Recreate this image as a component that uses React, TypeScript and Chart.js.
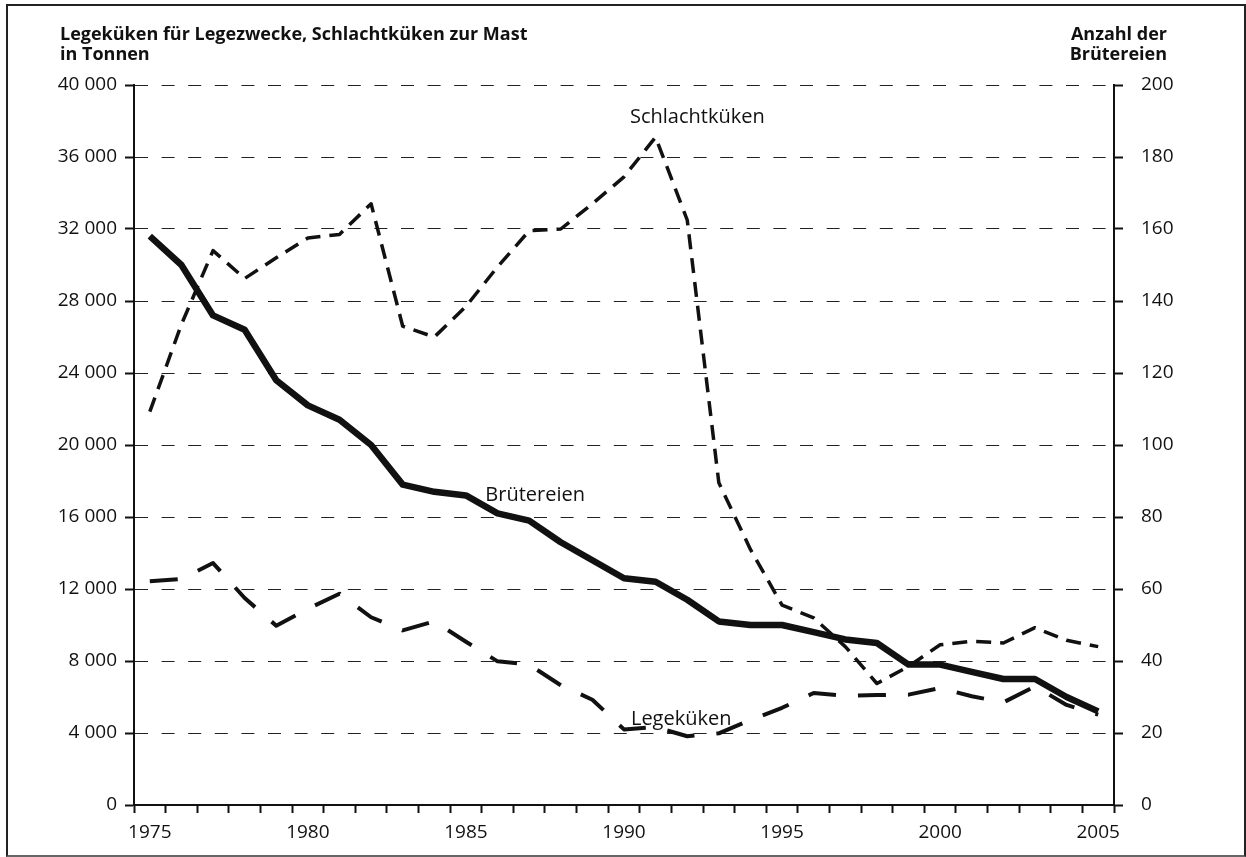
import React, { useEffect, useRef } from 'react';
import { Chart, registerables } from 'chart.js';

Chart.register(...registerables);

// ---------- data ----------
const years = [
  '1975', '1976', '1977', '1978', '1979', '1980', '1981', '1982', '1983', '1984',
  '1985', '1986', '1987', '1988', '1989', '1990', '1991', '1992', '1993', '1994',
  '1995', '1996', '1997', '1998', '1999', '2000', '2001', '2002', '2003', '2004', '2005',
];
const labeledYears = ['1975', '1980', '1985', '1990', '1995', '2000', '2005'];

// Schlachtküken zur Mast, in Tonnen (left axis)
const schlachtkueken = [
  21850, 26700, 30800, 29250, 30400, 31500, 31700, 33400, 26600, 26000,
  27700, 29900, 31900, 32000, 33400, 34900, 37100, 32500, 17900, 14200,
  11100, 10400, 8800, 6750, 7700, 8900, 9100, 9000, 9850, 9150, 8800,
];

// Legeküken für Legezwecke, in Tonnen (left axis)
const legekueken = [
  12430, 12560, 13440, 11500, 9960, 10900, 11740, 10430, 9700, 10200,
  9070, 7980, 7800, 6650, 5850, 4200, 4330, 3820, 3980, 4720,
  5400, 6220, 6060, 6110, 6130, 6500, 6040, 5700, 6590, 5560, 5020,
];

// Anzahl der Brütereien (right axis)
const bruetereien = [
  158, 150, 136, 132, 118, 111, 107, 100, 89, 87,
  86, 81, 79, 73, 68, 63, 62, 57, 51, 50,
  50, 48, 46, 45, 39, 39, 37, 35, 35, 30, 26,
];

const leftMin = 0;
const leftMax = 40000;
const leftStep = 4000;
const rightMin = 0;
const rightMax = 200;
const rightStep = 20;

const titleLeft = ['Legeküken für Legezwecke, Schlachtküken zur Mast', 'in Tonnen'];
const titleRight = ['Anzahl der', 'Brütereien'];

// in-chart series labels: category position (index) and left-axis value
const seriesLabels = [
  { text: 'Schlachtküken', at: 17.32, value: 37900 },
  { text: 'Brütereien', at: 12.19, value: 16890 },
  { text: 'Legeküken', at: 16.81, value: 4445 },
];

// ---------- styling ----------
const FONT = '"Open Sans", "Noto Sans", "DejaVu Sans", sans-serif';
const INK = '#111111';
const W = 1246;
const H = 857;

const fmt = (v: number) => String(v).replace(/\B(?=(\d{3})+(?!\d))/g, ' ');

const labelPlugin = {
  id: 'seriesLabels',
  afterDatasetsDraw(chart: any) {
    const { ctx, scales } = chart;
    ctx.save();
    ctx.font = `20px ${FONT}`;
    ctx.fillStyle = INK;
    ctx.textAlign = 'center';
    ctx.textBaseline = 'alphabetic';
    for (const l of seriesLabels) {
      ctx.fillText(l.text, scales.x.getPixelForValue(l.at), scales.y.getPixelForValue(l.value));
    }
    ctx.restore();
  },
};

export default function App() {
  const canvasRef = useRef<HTMLCanvasElement | null>(null);

  useEffect(() => {
    if (!canvasRef.current) return;
    const chart = new Chart(canvasRef.current, {
      type: 'line',
      data: {
        labels: years,
        datasets: [
          {
            label: 'Brütereien',
            data: bruetereien,
            yAxisID: 'y1',
            borderColor: INK,
            borderWidth: 6.5,
            pointRadius: 0,
            borderJoinStyle: 'round',
            borderCapStyle: 'butt',
            tension: 0,
            fill: false,
          },
          {
            label: 'Schlachtküken',
            data: schlachtkueken,
            yAxisID: 'y',
            borderColor: INK,
            borderWidth: 3.5,
            borderDash: [15, 9],
            pointRadius: 0,
            borderJoinStyle: 'round',
            tension: 0,
            fill: false,
          },
          {
            label: 'Legeküken',
            data: legekueken,
            yAxisID: 'y',
            borderColor: INK,
            borderWidth: 4,
            borderDash: [28, 22],
            pointRadius: 0,
            borderJoinStyle: 'round',
            tension: 0,
            fill: false,
          },
        ],
      },
      options: {
        responsive: false,
        animation: false,
        devicePixelRatio: 1,
        layout: { padding: { top: 85, left: 0, right: 0, bottom: 0 } },
        plugins: {
          legend: { display: false },
          tooltip: { enabled: false },
          title: { display: false },
        },
        events: [],
        scales: {
          x: {
            type: 'category',
            offset: true,
            grid: {
              offset: true,
              drawOnChartArea: false,
              drawTicks: true,
              tickLength: 8,
              tickWidth: 2,
              tickColor: INK,
            },
            border: { display: true, color: INK, width: 2 },
            ticks: {
              autoSkip: false,
              maxRotation: 0,
              minRotation: 0,
              padding: 8,
              color: INK,
              font: { family: FONT, size: 19 },
              callback: (_v: any, index: number) =>
                labeledYears.includes(years[index]) ? years[index] : '',
            },
            afterFit: (s: any) => {
              s.height = 52;
            },
          },
          y: {
            type: 'linear',
            position: 'left',
            min: leftMin,
            max: leftMax,
            ticks: {
              stepSize: leftStep,
              padding: 8,
              color: INK,
              font: { family: FONT, size: 19 },
              callback: (v: any) => fmt(Number(v)),
            },
            grid: {
              drawOnChartArea: true,
              color: '#222222',
              lineWidth: 1,
              drawTicks: true,
              tickLength: 9,
              tickWidth: 2,
              tickColor: INK,
            },
            border: { display: true, color: INK, width: 2, dash: [13, 13.6] },
            afterFit: (s: any) => {
              s.width = 134;
            },
          },
          y1: {
            type: 'linear',
            position: 'right',
            min: rightMin,
            max: rightMax,
            ticks: {
              stepSize: rightStep,
              padding: 18,
              color: INK,
              font: { family: FONT, size: 19 },
            },
            grid: {
              drawOnChartArea: false,
              drawTicks: true,
              tickLength: 9,
              tickWidth: 2,
              tickColor: INK,
            },
            border: { display: true, color: INK, width: 2 },
            afterFit: (s: any) => {
              s.width = 132;
            },
          },
        },
      },
      plugins: [labelPlugin],
    });
    return () => chart.destroy();
  }, []);

  const titleStyle: React.CSSProperties = {
    position: 'absolute',
    top: 23,
    fontFamily: FONT,
    fontWeight: 700,
    fontSize: 18,
    lineHeight: '20px',
    color: INK,
    whiteSpace: 'nowrap',
  };

  return (
    <div
      style={{
        position: 'fixed',
        left: 0,
        top: 0,
        width: W,
        height: H,
        background: '#ffffff',
        overflow: 'hidden',
      }}
    >
      <canvas ref={canvasRef} width={W} height={H} style={{ display: 'block', position: 'absolute', left: 0, top: 0 }} />
      <div style={{ ...titleStyle, left: 60, textAlign: 'left' }}>
        {titleLeft.map((t) => (
          <div key={t}>{t}</div>
        ))}
      </div>
      <div style={{ ...titleStyle, right: W - 1167, textAlign: 'right' }}>
        {titleRight.map((t) => (
          <div key={t}>{t}</div>
        ))}
      </div>
      <div
        style={{
          position: 'absolute',
          left: 6,
          top: 4,
          width: W - 6,
          height: H - 4,
          boxSizing: 'border-box',
          borderLeft: '2px solid #222',
          borderTop: '2px solid #222',
          borderRight: '2px solid #222',
          borderBottom: '2px solid #666',
          pointerEvents: 'none',
        }}
      />
    </div>
  );
}
